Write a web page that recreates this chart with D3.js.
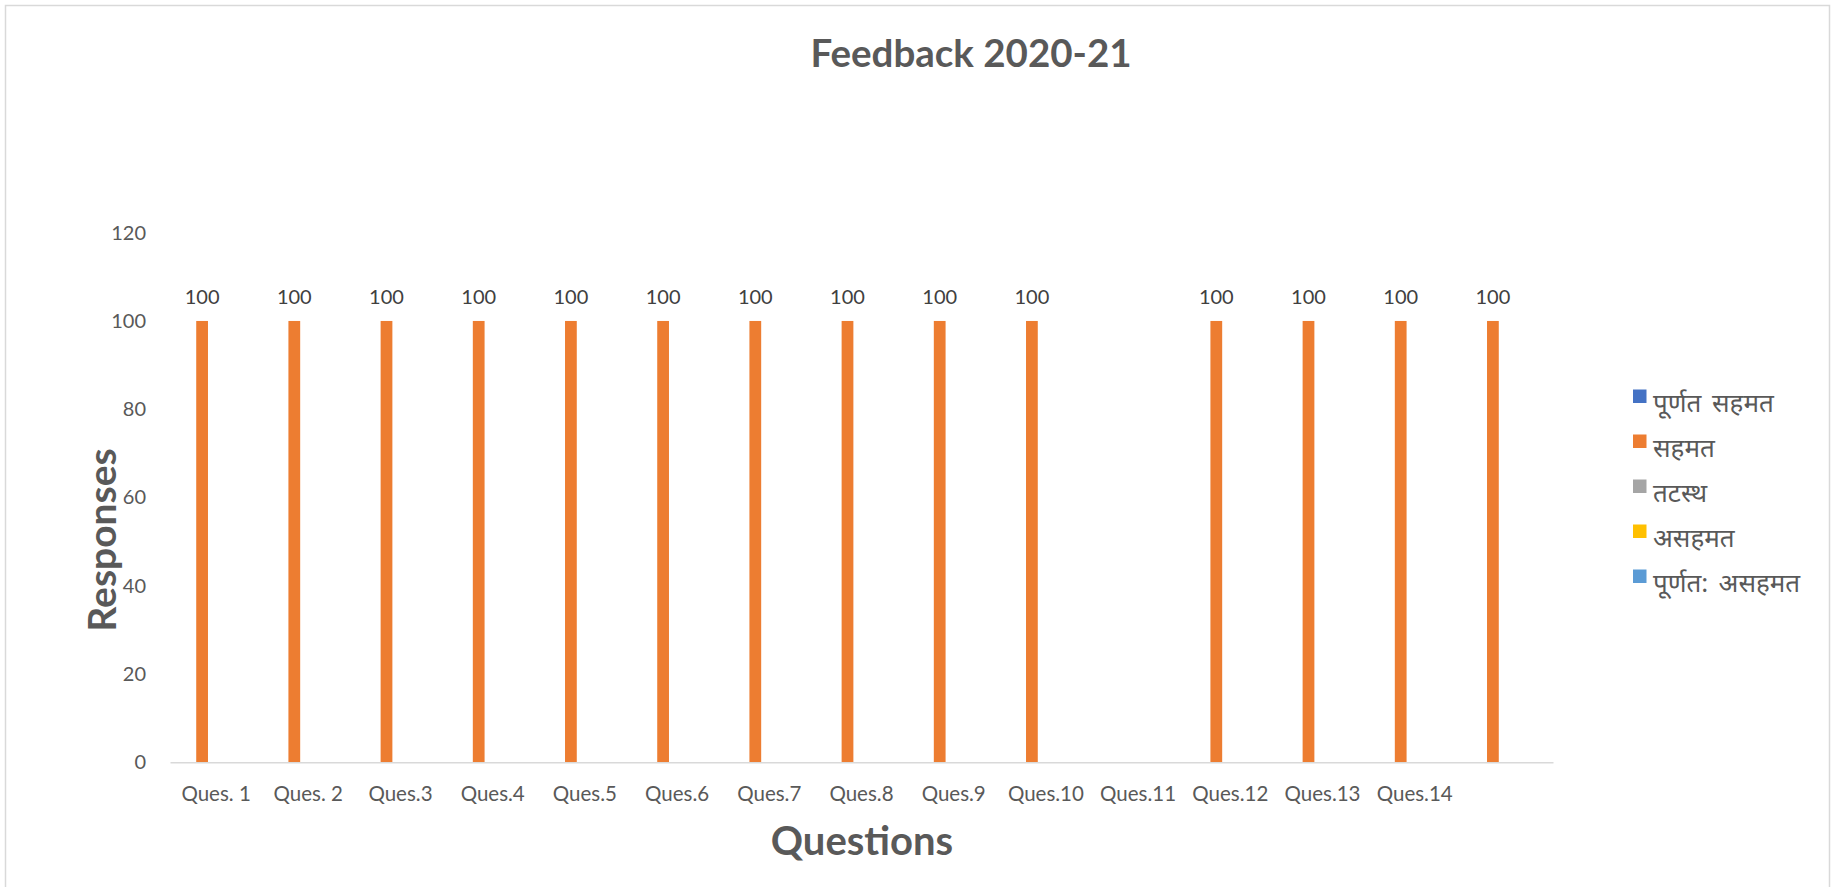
<!DOCTYPE html>
<html>
<head>
<meta charset="utf-8">
<script src="https://cdnjs.cloudflare.com/ajax/libs/d3/7.8.5/d3.min.js"></script>
<style>
	body { margin: 0; background: #ffffff; }
	svg { display: block; }
	text { font-family: Lato, "Noto Sans", "Noto Sans Devanagari", sans-serif; fill: #595959; }
</style>
</head>
<body>
<svg id="chart" width="1838" height="887"></svg>
<script>
//chart data
const categories = ["Ques. 1", "Ques. 2", "Ques.3", "Ques.4", "Ques.5", "Ques.6", "Ques.7",
	"Ques.8", "Ques.9", "Ques.10", "Ques.11", "Ques.12", "Ques.13", "Ques.14", ""];
const seriesNames = ["पूर्णत सहमत", "सहमत", "तटस्थ", "असहमत", "पूर्णत: असहमत"];
const seriesColors = ["#4472C4", "#ED7D31", "#A5A5A5", "#FFC000", "#5B9BD5"];
// empty cells are null
const fullyAgree = [null, null, null, null, null, null, null, null, null, null, null, null, null, null, null];
const agree = [100, 100, 100, 100, 100, 100, 100, 100, 100, 100, null, 100, 100, 100, 100];
const neutral = [null, null, null, null, null, null, null, null, null, null, null, null, null, null, null];
const disagree = [null, null, null, null, null, null, null, null, null, null, null, null, null, null, null];
const fullyDisagree = [null, null, null, null, null, null, null, null, null, null, null, null, null, null, null];
const yTicks = [0, 20, 40, 60, 80, 100, 120];

const seriesValues = [fullyAgree, agree, neutral, disagree, fullyDisagree];

var svg = d3.select("#chart");

//chart area border
svg.append("rect")
	.attr("x", 5.5).attr("y", 5.5)
	.attr("width", 1824).attr("height", 900)
	.attr("fill", "none")
	.attr("stroke", "#D9D9D9")
	.attr("stroke-width", 1.5);

//scales
var x0 = d3.scaleBand().domain(categories).range([170, 1553]).padding(0);
var x1 = d3.scaleBand()
	.domain(d3.range(seriesNames.length))
	.range([x0.bandwidth() / 2 - 35, x0.bandwidth() / 2 + 35])
	.paddingInner(0.16)
	.paddingOuter(0.08);
var y = d3.scaleLinear().domain([0, 120]).range([762.3, 232.7]);

//title
svg.append("text")
	.attr("x", 971).attr("y", 67)
	.attr("text-anchor", "middle")
	.style("font-size", "38.5px")
	.style("font-weight", "bold")
	.text("Feedback 2020-21");

//y axis labels (no line)
var yAxis = svg.append("g")
	.attr("transform", "translate(146,0)")
	.call(d3.axisLeft(y).tickValues(yTicks).tickSize(0).tickPadding(0));
yAxis.select(".domain").remove();
yAxis.selectAll("text")
	.style("font-size", "20px")
	.attr("fill", "#595959");

//bars
var cells = [];
seriesValues.forEach(function (vals, s) {
	vals.forEach(function (v, i) {
		if (v !== null) cells.push({ cat: categories[i], s: s, v: v });
	});
});

svg.append("g").selectAll("rect")
	.data(cells)
	.enter()
	.append("rect")
	.attr("x", (d) => x0(d.cat) + x1(d.s))
	.attr("y", (d) => y(d.v))
	.attr("width", x1.bandwidth())
	.attr("height", (d) => y(0) - y(d.v))
	.attr("fill", (d) => seriesColors[d.s]);

//data labels
svg.append("g").selectAll("text")
	.data(cells)
	.enter()
	.append("text")
	.attr("x", (d) => x0(d.cat) + x1(d.s) + x1.bandwidth() / 2)
	.attr("y", (d) => y(d.v) - 17)
	.attr("text-anchor", "middle")
	.style("font-size", "20px")
	.style("fill", "#404040")
	.text((d) => d.v);

//x axis
var xAxis = svg.append("g")
	.attr("transform", "translate(0," + y(0) + ")")
	.call(d3.axisBottom(x0).tickSize(0).tickPadding(0));
xAxis.select(".domain")
	.attr("stroke", "#D9D9D9")
	.attr("stroke-width", 1.5);
xAxis.selectAll("text")
	.attr("y", 39)
	.attr("dy", 0)
	.style("font-size", "20.5px");

//axis titles
svg.append("text")
	.attr("x", 862).attr("y", 855)
	.attr("text-anchor", "middle")
	.style("font-size", "40px")
	.style("font-weight", "bold")
	.text("Questions");

svg.append("text")
	.attr("transform", "translate(116,540) rotate(-90)")
	.attr("text-anchor", "middle")
	.style("font-size", "39px")
	.style("font-weight", "bold")
	.text("Responses");

//legend
var legend = svg.append("g").selectAll("g")
	.data(seriesNames)
	.enter()
	.append("g")
	.attr("transform", (d, i) => "translate(1633," + (389.5 + i * 45) + ")");

legend.append("rect")
	.attr("width", 13.5).attr("height", 13.5)
	.attr("fill", (d, i) => seriesColors[i]);

legend.append("text")
	.attr("x", 20).attr("y", 22)
	.style("font-size", "26px")
	.style("word-spacing", "4px")
	.text((d) => d);
</script>
</body>
</html>
